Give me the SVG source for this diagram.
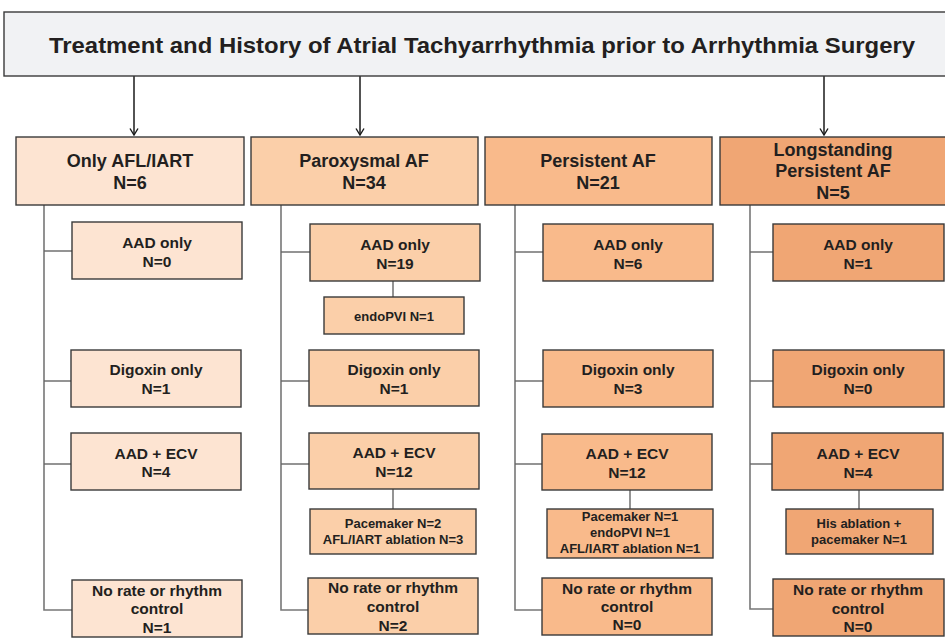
<svg xmlns="http://www.w3.org/2000/svg" width="945" height="643" viewBox="0 0 945 643">
  <style>
    text { font-family: "Liberation Sans", Arial, sans-serif; font-weight: bold; fill: #231f20; text-anchor: middle; }
    .title { font-size: 22px; }
    .hd { font-size: 18px; }
    .ch { font-size: 15.5px; }
    .sm { font-size: 13px; }
    .box { stroke: #3a3a3a; stroke-width: 1.4; }
    .c1 { fill: #fde4d2; }
    .c2 { fill: #fbcfa9; }
    .c3 { fill: #f9ba8b; }
    .c4 { fill: #f0a674; }
    .arrow { stroke: #1a1a1a; stroke-width: 1.5; fill: none; }
    .trunk { stroke: #777; stroke-width: 1.6; fill: none; }
    .branch { stroke: #666; stroke-width: 1.4; fill: none; }
  </style>
  <defs>
    <!-- open chevron head, drawn pointing along +x so orient="auto" follows the line -->
    <marker id="vhead" viewBox="0 0 10 10" refX="9.5" refY="5" markerWidth="10" markerHeight="10" markerUnits="userSpaceOnUse" orient="auto">
      <polyline points="3,1 9.5,5 3,9" fill="none" stroke="#1a1a1a" stroke-width="1.4"/>
    </marker>
  </defs>
  <rect width="945" height="643" fill="#ffffff"/>

  <!-- connectors -->
  <g id="connectors">
    <line class="arrow" x1="134" y1="76" x2="134" y2="135" marker-end="url(#vhead)"/>
    <line class="arrow" x1="360" y1="76" x2="360" y2="135" marker-end="url(#vhead)"/>
    <line class="arrow" x1="824" y1="76" x2="824" y2="135" marker-end="url(#vhead)"/>

    <!-- column 1 tree -->
    <polyline class="trunk" points="44,205 44,610 72,610"/>
    <line class="branch" stroke="#222" x1="44" y1="251" x2="72" y2="251"/>
    <line class="branch" x1="44" y1="381" x2="71" y2="381"/>
    <line class="branch" x1="44" y1="464" x2="71" y2="464"/>

    <!-- column 2 tree -->
    <polyline class="trunk" stroke="#444" points="281,205 281,610 308,610"/>
    <line class="branch" stroke="#222" x1="281" y1="252" x2="310" y2="252"/>
    <line class="branch" x1="281" y1="381" x2="309" y2="381"/>
    <line class="branch" x1="281" y1="464" x2="309" y2="464"/>
    <line class="branch" x1="393" y1="281" x2="393" y2="297"/>
    <line class="branch" x1="393" y1="489" x2="393" y2="509"/>

    <!-- column 3 tree -->
    <polyline class="trunk" points="515,205 515,610 542,610"/>
    <line class="branch" stroke="#222" x1="515" y1="252" x2="543" y2="252"/>
    <line class="branch" x1="515" y1="381" x2="543" y2="381"/>
    <line class="branch" x1="515" y1="464" x2="542" y2="464"/>
    <line class="branch" x1="630" y1="490" x2="630" y2="509"/>

    <!-- column 4 tree -->
    <polyline class="trunk" points="750,205 750,609 773,609"/>
    <line class="branch" stroke="#222" x1="750" y1="252" x2="773" y2="252"/>
    <line class="branch" x1="750" y1="381" x2="773" y2="381"/>
    <line class="branch" x1="750" y1="464" x2="772" y2="464"/>
    <line class="branch" x1="859" y1="490" x2="859" y2="509"/>
  </g>

  <!-- title -->
  <g id="title">
    <rect class="box" x="4" y="12" width="950" height="64" fill="#f1f2f4"/>
    <text class="title" x="482" y="53" textLength="866" lengthAdjust="spacingAndGlyphs">Treatment and History of Atrial Tachyarrhythmia prior to Arrhythmia Surgery</text>
  </g>

  <!-- column 1: only AFL/IART -->
  <g id="col1-header">
    <rect class="box c1" x="16" y="137" width="228" height="68"/>
    <text class="hd" x="130" y="167">Only AFL/IART</text>
    <text class="hd" x="130" y="189">N=6</text>
  </g>
  <g id="col1-aad">
    <rect class="box c1" x="72" y="222" width="170" height="57"/>
    <text class="ch" x="157" y="248">AAD only</text>
    <text class="ch" x="157" y="267">N=0</text>
  </g>
  <g id="col1-digoxin">
    <rect class="box c1" x="71" y="350" width="170" height="57"/>
    <text class="ch" x="156" y="375">Digoxin only</text>
    <text class="ch" x="156" y="394">N=1</text>
  </g>
  <g id="col1-ecv">
    <rect class="box c1" x="71" y="433" width="170" height="57"/>
    <text class="ch" x="156" y="459">AAD + ECV</text>
    <text class="ch" x="156" y="477">N=4</text>
  </g>
  <g id="col1-none">
    <rect class="box c1" x="72" y="580" width="170" height="57"/>
    <text class="ch" x="157" y="596">No rate or rhythm</text>
    <text class="ch" x="157" y="614">control</text>
    <text class="ch" x="157" y="633">N=1</text>
  </g>

  <!-- column 2: paroxysmal AF -->
  <g id="col2-header">
    <rect class="box c2" x="251" y="137" width="227" height="68"/>
    <text class="hd" x="364" y="167">Paroxysmal AF</text>
    <text class="hd" x="364" y="189">N=34</text>
  </g>
  <g id="col2-aad">
    <rect class="box c2" x="310" y="224" width="170" height="57"/>
    <text class="ch" x="395" y="250">AAD only</text>
    <text class="ch" x="395" y="269">N=19</text>
  </g>
  <g id="col2-pvi">
    <rect class="box c2" x="324" y="297" width="140" height="37"/>
    <text class="sm" x="394" y="321">endoPVI N=1</text>
  </g>
  <g id="col2-digoxin">
    <rect class="box c2" x="309" y="350" width="170" height="56"/>
    <text class="ch" x="394" y="375">Digoxin only</text>
    <text class="ch" x="394" y="394">N=1</text>
  </g>
  <g id="col2-ecv">
    <rect class="box c2" x="309" y="433" width="170" height="56"/>
    <text class="ch" x="394" y="458">AAD + ECV</text>
    <text class="ch" x="394" y="477">N=12</text>
  </g>
  <g id="col2-ecv-extra">
    <rect class="box c2" x="310" y="509" width="166" height="45"/>
    <text class="sm" x="393" y="528">Pacemaker N=2</text>
    <text class="sm" x="393" y="544">AFL/IART ablation N=3</text>
  </g>
  <g id="col2-none">
    <rect class="box c2" x="308" y="578" width="170" height="56"/>
    <text class="ch" x="393" y="593">No rate or rhythm</text>
    <text class="ch" x="393" y="612">control</text>
    <text class="ch" x="393" y="631">N=2</text>
  </g>

  <!-- column 3: persistent AF -->
  <g id="col3-header">
    <rect class="box c3" x="485" y="137" width="227" height="68"/>
    <text class="hd" x="598" y="167">Persistent AF</text>
    <text class="hd" x="598" y="189">N=21</text>
  </g>
  <g id="col3-aad">
    <rect class="box c3" x="543" y="224" width="170" height="57"/>
    <text class="ch" x="628" y="250">AAD only</text>
    <text class="ch" x="628" y="269">N=6</text>
  </g>
  <g id="col3-digoxin">
    <rect class="box c3" x="543" y="350" width="170" height="57"/>
    <text class="ch" x="628" y="375">Digoxin only</text>
    <text class="ch" x="628" y="394">N=3</text>
  </g>
  <g id="col3-ecv">
    <rect class="box c3" x="542" y="434" width="170" height="56"/>
    <text class="ch" x="627" y="459">AAD + ECV</text>
    <text class="ch" x="627" y="478">N=12</text>
  </g>
  <g id="col3-ecv-extra">
    <rect class="box c3" x="547" y="509" width="166" height="49"/>
    <text class="sm" x="630" y="521">Pacemaker N=1</text>
    <text class="sm" x="630" y="537">endoPVI N=1</text>
    <text class="sm" x="630" y="553">AFL/IART ablation N=1</text>
  </g>
  <g id="col3-none">
    <rect class="box c3" x="542" y="578" width="170" height="57"/>
    <text class="ch" x="627" y="594">No rate or rhythm</text>
    <text class="ch" x="627" y="612">control</text>
    <text class="ch" x="627" y="630">N=0</text>
  </g>

  <!-- column 4: longstanding persistent AF -->
  <g id="col4-header">
    <rect class="box c4" x="720" y="137" width="235" height="68"/>
    <text class="hd" x="833" y="156">Longstanding</text>
    <text class="hd" x="833" y="177">Persistent AF</text>
    <text class="hd" x="833" y="199">N=5</text>
  </g>
  <g id="col4-aad">
    <rect class="box c4" x="773" y="224" width="171" height="57"/>
    <text class="ch" x="858" y="250">AAD only</text>
    <text class="ch" x="858" y="269">N=1</text>
  </g>
  <g id="col4-digoxin">
    <rect class="box c4" x="773" y="350" width="171" height="57"/>
    <text class="ch" x="858" y="375">Digoxin only</text>
    <text class="ch" x="858" y="394">N=0</text>
  </g>
  <g id="col4-ecv">
    <rect class="box c4" x="772" y="433" width="171" height="57"/>
    <text class="ch" x="858" y="459">AAD + ECV</text>
    <text class="ch" x="858" y="478">N=4</text>
  </g>
  <g id="col4-ecv-extra">
    <rect class="box c4" x="786" y="509" width="147" height="45"/>
    <text class="sm" x="859" y="528">His ablation +</text>
    <text class="sm" x="859" y="544">pacemaker N=1</text>
  </g>
  <g id="col4-none">
    <rect class="box c4" x="773" y="579" width="171" height="57"/>
    <text class="ch" x="858" y="595">No rate or rhythm</text>
    <text class="ch" x="858" y="614">control</text>
    <text class="ch" x="858" y="632">N=0</text>
  </g>
</svg>
